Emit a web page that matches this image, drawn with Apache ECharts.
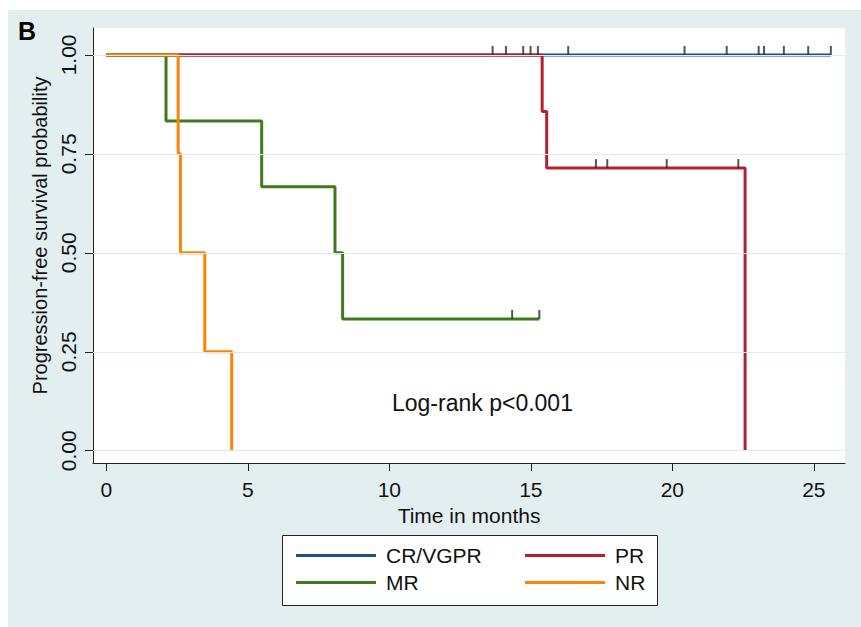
<!DOCTYPE html>
<html>
<head>
<meta charset="utf-8">
<script src="https://cdn.jsdelivr.net/npm/echarts@6/dist/echarts.min.js"></script>
<style>
  html, body { margin: 0; padding: 0; background: #fff; }
  #chart { width: 861px; height: 627px; }
</style>
</head>
<body>
<div id="chart"></div>
<script>
// Kaplan-Meier curves (time in months, survival)
const crTime = [0, 25.6];
const crSurv = [1, 1];
const crCensor = [13.65, 14.12, 14.73, 14.99, 15.25, 16.32, 20.43, 21.92, 23.05, 23.24, 23.94, 24.8, 25.6];
const crCensorSurv = 1;

const prTime = [0, 15.4, 15.56, 22.57];
const prSurv = [1, 0.857, 0.714, 0];
const prCensor = [17.3, 17.7, 19.8, 22.33];
const prCensorSurv = 0.714;

const mrTime = [0, 2.11, 5.49, 8.08, 8.35, 15.3];
const mrSurv = [1, 0.833, 0.667, 0.5, 0.333, 0.333];
const mrCensor = [14.34, 15.3];
const mrCensorSurv = 0.333;

const nrTime = [0, 2.54, 2.62, 3.48, 4.43];
const nrSurv = [1, 0.75, 0.5, 0.25, 0];

const xTicks = [0, 5, 10, 15, 20, 25];
const yTicks = [0, 0.25, 0.5, 0.75, 1];

const FONT = 'Liberation Sans, Arial, sans-serif';
const BLUE = '#1b4f8c', RED = '#b32030', GREEN = '#3f7a1f', ORANGE = '#ff8500';

const pairs = (t, s) => t.map((v, i) => [v, s[i]]);
const ticks = (t, s) => t.map((v) => [v, s]);

function kmLine(name, t, s, color) {
  return {
    name, type: 'line', step: 'end', data: pairs(t, s),
    showSymbol: false, symbol: 'none', animation: false,
    lineStyle: { color, width: 3 }, itemStyle: { color },
  };
}
function censor(name, t, s) {
  return {
    name, type: 'scatter', data: ticks(t, s), animation: false,
    symbol: 'rect', symbolSize: [2, 9], symbolOffset: [0, -4.5],
    itemStyle: { color: '#2b2b2b' }, z: 4, silent: true,
  };
}

const legendBase = {
  orient: 'vertical', icon: 'rect', itemWidth: 80, itemHeight: 3,
  itemGap: 6, top: 540, selectedMode: false,
  textStyle: { fontFamily: FONT, fontSize: 21, color: '#111', padding: [0, 0, 0, 5] },
};

const chart = echarts.init(document.getElementById('chart'), null, { renderer: 'svg' });
chart.setOption({
  animation: false,
  backgroundColor: '#fff',
  title: { text: 'B', left: 13, top: 13, textStyle: { fontFamily: FONT, fontSize: 25, fontWeight: 'bold', color: '#000' } },
  graphic: [
    { type: 'rect', left: 8, top: 10, shape: { width: 853, height: 617 }, style: { fill: '#e3eef1' }, z: -10 },
    { type: 'rect', left: 282, top: 535, shape: { width: 375, height: 70 }, style: { fill: '#fff', stroke: '#222', lineWidth: 1 }, z: -5 },
    { type: 'text', left: 392, top: 391, style: { text: 'Log-rank p<0.001', fontFamily: FONT, fontSize: 23, fill: '#111' } },
  ],
  grid: { left: 93, right: 16, top: 28, bottom: 164, show: true, backgroundColor: '#fff', borderWidth: 0 },
  legend: [
    Object.assign({}, legendBase, { left: 291, data: ['CR/VGPR', 'MR'] }),
    Object.assign({}, legendBase, { left: 520, data: ['PR', 'NR'] }),
  ],
  xAxis: {
    type: 'value', min: -0.47, max: 26.1,
    name: 'Time in months', nameLocation: 'middle', nameGap: 37,
    nameTextStyle: { fontFamily: FONT, fontSize: 21, color: '#111' },
    axisLine: { onZero: false, lineStyle: { color: '#222', width: 1 } },
    axisTick: { show: true, length: 8, customValues: xTicks, lineStyle: { color: '#222' } },
    axisLabel: { customValues: xTicks, margin: 16, fontFamily: FONT, fontSize: 21, color: '#111' },
    splitLine: { show: false },
  },
  yAxis: {
    type: 'value', min: -0.031, max: 1.068,
    name: 'Progression-free survival probability', nameLocation: 'middle', nameGap: 39,
    nameTextStyle: { fontFamily: FONT, fontSize: 20, color: '#111', padding: [0, 0, 0, 20] },
    axisLine: { show: true, onZero: false, lineStyle: { color: '#222', width: 1 } },
    axisTick: { show: true, length: 8, customValues: yTicks, lineStyle: { color: '#222' } },
    axisLabel: {
      customValues: yTicks, rotate: 90, margin: 14, fontFamily: FONT, fontSize: 21, color: '#111',
      formatter: (v) => v.toFixed(2),
    },
    splitLine: { show: false },
  },
  series: [
    {
      name: 'grid', type: 'line', data: [], z: 1, silent: true,
      markLine: {
        silent: true, symbol: 'none', animation: false, label: { show: false },
        lineStyle: { color: '#dcecf1', width: 1, type: 'solid' },
        data: yTicks.map((v) => ({ yAxis: v })),
      },
    },
    kmLine('CR/VGPR', crTime, crSurv, BLUE),
    kmLine('PR', prTime, prSurv, RED),
    kmLine('MR', mrTime, mrSurv, GREEN),
    kmLine('NR', nrTime, nrSurv, ORANGE),
    censor('crc', crCensor, crCensorSurv),
    censor('prc', prCensor, prCensorSurv),
    censor('mrc', mrCensor, mrCensorSurv),
  ],
});
</script>
</body>
</html>
